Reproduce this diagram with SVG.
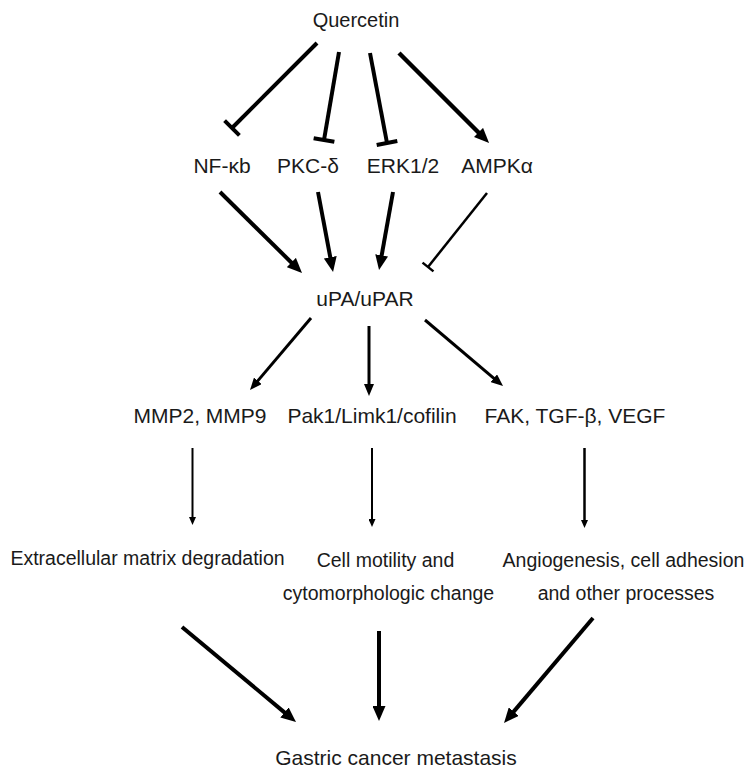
<svg xmlns="http://www.w3.org/2000/svg" width="750" height="777" viewBox="0 0 750 777">
<style>
text{font-family:"Liberation Sans",Arial,sans-serif;fill:#1a1a1a;text-anchor:middle}
.t1{font-size:21px}
.t0{font-size:20px}
.t2{font-size:19.5px}
.ln{stroke:#000;fill:none;stroke-linecap:butt}
</style>
<defs>
<marker id="big" viewBox="0 0 15 13" refX="5" refY="6.5" markerWidth="15" markerHeight="13" markerUnits="userSpaceOnUse" orient="auto"><path d="M0,0 L15,6.5 L0,13 z" fill="#000"/></marker>
<marker id="med" viewBox="0 0 12 10" refX="4" refY="5" markerWidth="12" markerHeight="10" markerUnits="userSpaceOnUse" orient="auto"><path d="M0,0 L12,5 L0,10 z" fill="#000"/></marker>
<marker id="small" viewBox="0 0 8 7" refX="3" refY="3.5" markerWidth="8" markerHeight="7" markerUnits="userSpaceOnUse" orient="auto"><path d="M0,0 L8,3.5 L0,7 z" fill="#000"/></marker>
<marker id="tbar" viewBox="-3 -11 6 22" refX="0" refY="0" markerWidth="6" markerHeight="22" markerUnits="userSpaceOnUse" orient="auto"><path d="M0,-10.5 L0,10.5" stroke="#000" stroke-width="4"/></marker>
<marker id="tbar2" viewBox="-2 -8 4 16" refX="0" refY="0" markerWidth="4" markerHeight="16" markerUnits="userSpaceOnUse" orient="auto"><path d="M0,-7 L0,7" stroke="#000" stroke-width="2.5"/></marker>
</defs>
<g id="connectors">
<line class="ln" x1="317" y1="43" x2="232" y2="128" stroke-width="4" marker-end="url(#tbar)"/>
<line class="ln" x1="339" y1="52" x2="324" y2="140" stroke-width="4" marker-end="url(#tbar)"/>
<line class="ln" x1="370" y1="53" x2="387" y2="143" stroke-width="4" marker-end="url(#tbar)"/>
<line class="ln" x1="399" y1="53" x2="482" y2="136" stroke-width="4.5" marker-end="url(#big)"/>
<line class="ln" x1="220" y1="192" x2="294.9" y2="266" stroke-width="4" marker-end="url(#big)"/>
<line class="ln" x1="318" y1="192" x2="331.2" y2="262.2" stroke-width="4" marker-end="url(#big)"/>
<line class="ln" x1="393" y1="192" x2="380.8" y2="260.2" stroke-width="4" marker-end="url(#big)"/>
<line class="ln" x1="487" y1="193" x2="428" y2="267" stroke-width="2.5" marker-end="url(#tbar2)"/>
<line class="ln" x1="311" y1="318" x2="255.2" y2="383.9" stroke-width="3" marker-end="url(#med)"/>
<line class="ln" x1="369" y1="326" x2="369" y2="388" stroke-width="3" marker-end="url(#med)"/>
<line class="ln" x1="425" y1="320" x2="496.9" y2="380.8" stroke-width="3" marker-end="url(#med)"/>
<line class="ln" x1="192.5" y1="448" x2="192.5" y2="520" stroke-width="2" marker-end="url(#small)"/>
<line class="ln" x1="372" y1="448" x2="372" y2="522" stroke-width="2" marker-end="url(#small)"/>
<line class="ln" x1="584.5" y1="448" x2="584.5" y2="523" stroke-width="2.5" marker-end="url(#small)"/>
<line class="ln" x1="182" y1="627" x2="288.3" y2="715.6" stroke-width="4" marker-end="url(#big)"/>
<line class="ln" x1="379" y1="631" x2="379" y2="711" stroke-width="4" marker-end="url(#big)"/>
<line class="ln" x1="593" y1="618" x2="510.5" y2="715.4" stroke-width="4" marker-end="url(#big)"/>
</g>
<g id="quercetin"><text class="t0" x="356" y="27">Quercetin</text></g>
<g id="nfkb"><text class="t1" x="222" y="173">NF-κb</text></g>
<g id="pkc"><text class="t1" x="308" y="173">PKC-δ</text></g>
<g id="erk"><text class="t1" x="403" y="173">ERK1/2</text></g>
<g id="ampk"><text class="t1" x="497" y="173">AMPKα</text></g>
<g id="upa"><text class="t1" x="365" y="306">uPA/uPAR</text></g>
<g id="mmp"><text class="t1" x="200" y="423">MMP2, MMP9</text></g>
<g id="pak"><text class="t1" x="372" y="423">Pak1/Limk1/cofilin</text></g>
<g id="fak"><text class="t1" x="575" y="423">FAK, TGF-β, VEGF</text></g>
<g id="ecm"><text class="t2" x="147.5" y="565">Extracellular matrix degradation</text></g>
<g id="motility"><text class="t2" x="385.5" y="567">Cell motility and</text><text class="t2" x="388.5" y="600">cytomorphologic change</text></g>
<g id="angio"><text class="t2" x="623.5" y="567">Angiogenesis, cell adhesion</text><text class="t2" x="626" y="600">and other processes</text></g>
<g id="gastric"><text class="t1" x="396" y="765">Gastric cancer metastasis</text></g>
</svg>
